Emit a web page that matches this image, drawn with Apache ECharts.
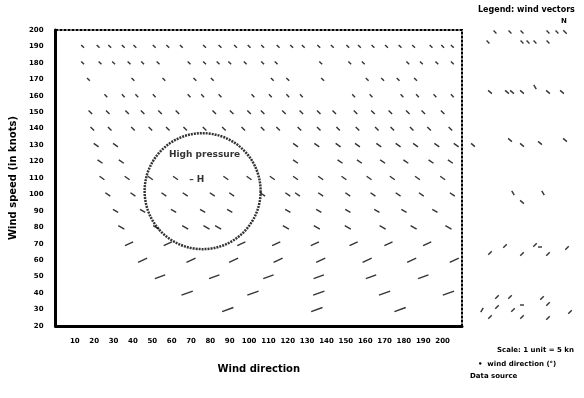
<!DOCTYPE html>
<html>
<head>
<meta charset="utf-8">
<script src="https://cdn.jsdelivr.net/npm/echarts@6/dist/echarts.min.js"></script>
<style>
  html, body { margin: 0; padding: 0; background: #fff; }
  #chart { width: 584px; height: 398px; }
</style>
</head>
<body>
<div id="chart"></div>
<script>
// rows of the vector field (y value) and the x positions of each mark
const rowLevels = [190, 180, 170, 160, 150, 140, 130, 120, 110, 100, 90, 80, 70, 60, 50, 40, 30];
const rowXs = [
    [14, 22, 28, 35, 41, 51, 58, 65, 77, 85, 93, 100, 107, 115, 122, 128, 136, 143, 151, 157, 164, 171, 178, 185, 194, 200, 205],
    [14, 23, 30, 38, 45, 53, 69, 77, 84, 90, 98, 107, 114, 137, 152, 159, 182, 189, 197, 205],
    [17, 40, 56, 72, 81, 112, 120, 138, 161, 169, 177, 186],
    [26, 35, 42, 51, 69, 76, 85, 102, 111, 120, 127, 154, 163, 179, 187, 196, 205],
    [18, 27, 37, 45, 54, 63, 82, 91, 100, 107, 118, 127, 136, 144, 155, 164, 173, 182, 190, 200],
    [19, 28, 40, 49, 58, 67, 77, 87, 97, 107, 115, 126, 136, 146, 156, 166, 174, 184, 193, 204],
    [21, 31, 124, 135, 146, 156, 167, 177, 186, 197, 207],
    [23, 34, 124, 147, 157, 169, 181, 194, 204],
    [24, 37, 49, 62, 88, 100, 112, 124, 137, 149, 162, 174, 187, 200],
    [27, 40, 56, 67, 81, 91, 107, 120, 125, 137, 151, 164, 177, 189, 205],
    [31, 45, 61, 76, 90, 120, 136, 151, 166, 180, 196],
    [34, 52, 67, 78, 84, 119, 135, 151, 169, 185, 203],
    [38, 58, 96, 114, 134, 154, 172, 192],
    [45, 70, 92, 115, 137, 161, 184, 206],
    [54, 82, 110, 136, 163, 190],
    [68, 102, 136, 170, 203],
    [89, 135, 178]
];
// direction (degrees) and length of the marks in each row
const rowAngles = [-45, -45, -45, -45, -45, -45, -35, -35, -35, -35, -30, -30, 25, 25, 20, 20, 20];
const rowLengths = [4, 4, 4, 4, 5, 5, 6, 6, 6, 6, 6, 7, 9, 10, 11, 12, 12];

// zone circle
const zoneCenter = [76, 102];
const zoneLabel = [77, 124];
const zoneMark = [73, 109];

// legend column samples [x, y, angle, length]
const legendMarks = [
    [25, 294, -45, 4], [40, 294, -45, 4], [52, 294, -45, 4], [78, 294, -45, 4], [87, 294, -45, 4], [95, 294, -45, 5],
    [18, 284, -45, 4], [52, 284, -45, 4], [58, 284, -45, 4], [65, 284, -45, 4], [78, 284, -45, 4],
    [20, 234, -40, 5], [37, 234, -40, 5], [42, 234, -40, 5], [52, 234, -40, 5], [65, 239, -60, 5], [78, 234, -40, 5], [92, 234, -40, 5],
    [3, 181, -40, 5], [40, 186, -40, 5], [52, 181, -40, 5], [70, 183, -40, 5], [95, 186, -40, 5],
    [43, 133, -60, 5], [52, 124, -40, 5], [73, 133, -60, 5],
    [20, 73, 45, 5], [35, 80, 45, 5], [52, 72, 45, 5], [65, 81, 45, 5], [70, 79, 0, 4], [78, 72, 45, 5], [97, 78, 45, 5],
    [27, 29, 45, 5], [40, 29, 45, 5], [12, 16, 60, 5], [27, 19, 45, 5], [43, 16, 45, 5], [52, 21, 0, 4],
    [72, 28, 45, 5], [78, 22, 45, 5], [100, 14, 45, 5], [20, 9, 45, 5], [52, 9, 45, 5], [78, 8, 45, 5]
];

const fieldData = [];
rowLevels.forEach((y, i) => {
    rowXs[i].forEach(x => {
        fieldData.push({
            value: [x, y],
            symbolRotate: rowAngles[i],
            symbolSize: [rowLengths[i], 1.4]
        });
    });
});

const legendData = legendMarks.map(m => ({
    value: [m[0], m[1]],
    symbolRotate: m[2],
    symbolSize: [m[3], 1.4]
}));

const chart = echarts.init(document.getElementById('chart'));
const FONT = 'DejaVu Sans';

const option = {
    backgroundColor: '#fff',
    animation: false,
    textStyle: { fontFamily: FONT, color: '#000' },
    grid: [
        {
            left: 55, top: 30, right: 122, bottom: 72,
            show: true, borderColor: '#000', borderWidth: 2, borderType: [3, 1]
        },
        { left: 470, top: 0, right: 0, bottom: 72 }
    ],
    xAxis: [
        {
            gridIndex: 0,
            type: 'value',
            min: 0, max: 210, interval: 10,
            name: 'Wind direction',
            nameLocation: 'middle',
            nameGap: 38,
            nameTextStyle: { fontFamily: FONT, fontWeight: 'bold', fontSize: 10, color: '#000' },
            axisLine: { lineStyle: { color: '#000', width: 3 } },
            axisTick: { show: false },
            splitLine: { show: false },
            axisLabel: {
                margin: 12, fontSize: 7, fontWeight: 'bold', color: '#000',
                showMinLabel: false, showMaxLabel: false
            }
        },
        { gridIndex: 1, type: 'value', min: 0, max: 114, show: false }
    ],
    yAxis: [
        {
            gridIndex: 0,
            type: 'value',
            min: 20, max: 200, interval: 10,
            name: 'Wind speed (in knots)',
            nameLocation: 'middle',
            nameGap: 32,
            nameTextStyle: { fontFamily: FONT, fontWeight: 'bold', fontSize: 10, color: '#000' },
            axisLine: { show: true, lineStyle: { color: '#000', width: 3 } },
            axisTick: { show: false },
            splitLine: { show: false },
            axisLabel: { margin: 12, fontSize: 7, fontWeight: 'bold', color: '#000' }
        },
        { gridIndex: 1, type: 'value', min: 0, max: 326, show: false }
    ],
    series: [
        {
            type: 'scatter',
            xAxisIndex: 0, yAxisIndex: 0,
            symbol: 'rect',
            itemStyle: { color: '#000' },
            data: fieldData
        },
        {
            type: 'scatter',
            xAxisIndex: 0, yAxisIndex: 0,
            symbol: 'circle',
            symbolSize: 116,
            itemStyle: { color: 'transparent', borderColor: '#000', borderWidth: 2.5, borderType: [2, 1] },
            data: [zoneCenter],
            z: 3
        },
        {
            type: 'scatter',
            xAxisIndex: 0, yAxisIndex: 0,
            symbolSize: 0,
            label: {
                show: true, position: 'inside', formatter: p => p.name,
                fontFamily: FONT, fontWeight: 'bold', fontSize: 9, color: '#000'
            },
            data: [
                { name: 'High pressure', value: zoneLabel },
                { name: '– H', value: zoneMark }
            ]
        },
        {
            type: 'scatter',
            xAxisIndex: 1, yAxisIndex: 1,
            symbol: 'rect',
            itemStyle: { color: '#000' },
            data: legendData
        }
    ],
    graphic: [
        { type: 'text', left: 478, top: 6, style: { text: 'Legend: wind vectors', font: 'bold 8px ' + FONT, fill: '#000' } },
        { type: 'text', left: 561, top: 18, style: { text: 'N', font: 'bold 7px ' + FONT, fill: '#000' } },
        { type: 'text', left: 497, top: 347, style: { text: 'Scale: 1 unit = 5 kn', font: 'bold 7px ' + FONT, fill: '#000' } },
        { type: 'text', left: 478, top: 361, style: { text: '•  wind direction (°)', font: 'bold 7px ' + FONT, fill: '#000' } },
        { type: 'text', left: 470, top: 373, style: { text: 'Data source', font: 'bold 7px ' + FONT, fill: '#000' } }
    ]
};

chart.setOption(option);
</script>
</body>
</html>
